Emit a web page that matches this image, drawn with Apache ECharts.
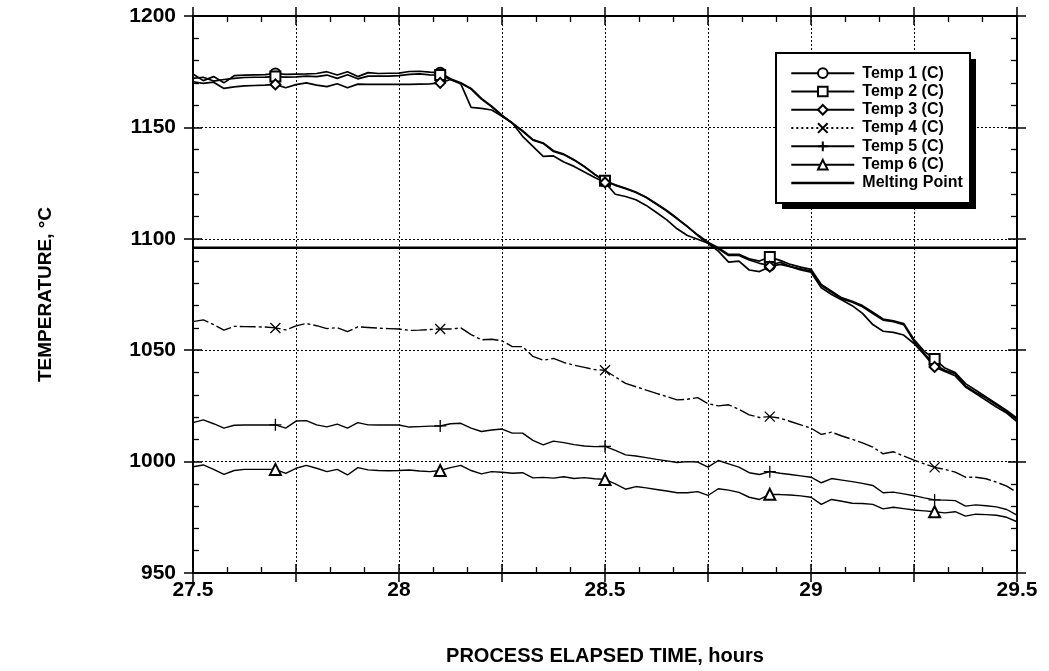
<!DOCTYPE html>
<html>
<head>
<meta charset="utf-8">
<script src="https://cdn.jsdelivr.net/npm/echarts@6/dist/echarts.min.js"></script>
<style>
html,body{margin:0;padding:0;background:#fff;}
#chart{width:1049px;height:671px;}
</style>
</head>
<body>
<div id="chart"></div>
<script>
const times = [27.5,27.525,27.55,27.575,27.6,27.625,27.65,27.675,27.7,27.725,27.75,27.775,27.8,27.825,27.85,27.875,27.9,27.925,27.95,27.975,
28.0,28.025,28.05,28.075,28.1,28.125,28.15,28.175,28.2,28.225,28.25,28.275,28.3,28.325,28.35,28.375,28.4,28.425,28.45,28.475,
28.5,28.525,28.55,28.575,28.6,28.625,28.65,28.675,28.7,28.725,28.75,28.775,28.8,28.825,28.85,28.875,28.9,28.925,28.95,28.975,
29.0,29.025,29.05,29.075,29.1,29.125,29.15,29.175,29.2,29.225,29.25,29.275,29.3,29.325,29.35,29.375,29.4,29.425,29.45,29.475,29.5];

const temp1 = [1174,1171,1172.8,1170,1173.2,1173.5,1173.6,1173.7,1174.2,1173.8,1173.9,1174,1174.2,1175,1173.5,1175,1172.8,1174.6,1174.2,1174.3,
1174.4,1175.1,1175.2,1174.8,1174.5,1171.8,1170,1167.5,1163,1159.5,1155.5,1152,1148.5,1144.5,1143,1139.5,1138,1135.5,1132.5,1129,
1125.8,1124,1122.5,1120.8,1118.5,1115.5,1112.5,1109,1105.5,1101.5,1098,1095.5,1092.5,1092.5,1090.5,1089,1088,1089.5,1087.5,1086.5,
1085.5,1079,1076,1073,1071.5,1069.5,1066.5,1063.5,1062.8,1061.5,1054,1048.5,1043.5,1041,1039.5,1034,1031,1028.5,1025.5,1022.5,1019];

const temp2 = [1172,1172.5,1170.8,1171.5,1172,1172.4,1172.5,1172.6,1172.8,1172.6,1172.7,1173,1172.8,1173.5,1172,1173.6,1171.8,1173,1173,1173,
1173.2,1173.8,1174,1173.6,1173.5,1171.5,1169.8,1167.2,1162.7,1159.2,1155.2,1151.8,1148.2,1144.3,1142.8,1139.2,1137.8,1135.3,1132.3,1128.8,
1126,1124.2,1122.7,1121,1118.7,1115.7,1112.7,1109.2,1105.5,1101.8,1098.5,1096,1093,1093,1091,1090,1091.8,1090.3,1088.5,1087.3,
1086.3,1079.5,1076.5,1073.5,1072,1070,1067,1064,1063.2,1062,1054.8,1049.5,1046,1042,1040,1035,1032,1029,1026,1023,1019.5];

const temp3 = [1170.5,1169.8,1170.3,1167.5,1168.2,1168.6,1168.8,1169,1169.3,1167.8,1169.2,1170,1169,1168.3,1169.6,1167.8,1169.4,1169.3,1169.3,1169.3,
1169.3,1169.3,1169.4,1169.5,1170,1171.5,1169.5,1159,1158.5,1157.8,1155,1152,1146,1141.5,1137,1137.2,1134.5,1132.5,1130,1127.5,
1125.3,1120,1119,1117.5,1115,1111.8,1108.5,1104.5,1101.5,1099.8,1098,1094.5,1089.5,1090,1086,1085.3,1087.5,1088.5,1087.5,1086,
1085,1078,1075,1072.5,1070,1066.5,1061.5,1058.5,1058,1056.8,1053,1048,1042.5,1040.5,1038.5,1033.5,1030.5,1027.5,1024.5,1021.8,1018];

const temp4 = [1062.8,1063.6,1061.5,1059,1060.7,1060.6,1060.5,1060.4,1060,1059.1,1060.9,1062,1061,1059.7,1060.1,1058.3,1060.5,1060.2,1059.9,1059.7,
1059.5,1058.9,1059,1059.3,1059.5,1059.5,1060,1057,1054.7,1054.9,1054.2,1051.6,1051.6,1047.2,1045.5,1046.3,1044.5,1043.3,1042.3,1041.3,
1041,1038,1035.1,1033.6,1032.1,1030.6,1029.2,1027.7,1028,1028.7,1026,1025,1025.5,1023.5,1021,1019.8,1020.2,1019.5,1018,1016.5,
1015,1012.2,1013.2,1011.5,1010,1008.4,1006.5,1003.5,1004.4,1002.5,1000.7,999,997.4,996.5,995.3,993,993,992.3,990.8,989,986.1];

const temp5 = [1017.5,1018.7,1017,1015,1016.3,1016.4,1016.4,1016.4,1016.5,1015,1018.2,1018.4,1016.5,1015.6,1016.8,1015,1017.5,1016.5,1016.4,1016.4,
1016.4,1015.5,1015.7,1015.9,1016,1017,1017.2,1015,1013.5,1014.2,1014.6,1012.8,1012.8,1009.5,1007.5,1009.2,1008.5,1007.6,1007,1006.7,
1006.8,1005,1003,1002.5,1001.8,1001,1000.3,999.6,1000,999.8,997.5,1000.5,999,997.5,995,994.2,995.5,994.8,994.2,993.6,
993,990.5,992.4,991.7,991,990.2,989.3,986,986.3,985.5,984.7,983.7,982.8,982.7,982.5,980,980.6,980.2,979.7,978.5,976];

const temp6 = [997.7,998.5,996.5,994.3,996,996.5,996.5,996.5,996.5,994.7,997,998.3,997,995.5,996.5,994,997.3,996.3,996,995.9,
996,996.2,995.8,995.5,996,997.3,998.3,996,994.5,995.5,995.2,994.8,995,992.7,992.9,992.6,993.2,992.4,992.8,992.3,
992,990,987.6,988.8,988.2,987.5,986.8,986,986,986.5,984.8,987.8,987.2,986.2,984,983,985.3,985.2,985,984.6,
984,980.8,983,982.2,981.3,981.2,980.8,978.8,979.5,978.9,978.3,977.9,977.5,977,977.5,975.5,976.4,976.2,975.9,975,973];

const meltingPoint = 1096;
const markerTimes = [27.7, 28.1, 28.5, 28.9, 29.3];
const seriesNames = ['Temp 1 (C)','Temp 2 (C)','Temp 3 (C)','Temp 4 (C)','Temp 5 (C)','Temp 6 (C)','Melting Point'];
const xTickValues = [27.5, 28, 28.5, 29, 29.5];
const xTickLabels = ['27.5', '28', '28.5', '29', '29.5'];
const yTickValues = [950, 1000, 1050, 1100, 1150, 1200];
const yTickLabels = ['950', '1000', '1050', '1100', '1150', '1200'];

const FONT = "'Liberation Sans', Arial, Helvetica, sans-serif";
const X_PATH = 'path://M0,0L10,10M10,0L0,10';
const PLUS_PATH = 'path://M5,0L5,10M0,5L10,5';

function isMarker(t) { return markerTimes.some(m => Math.abs(m - t) < 1e-6); }

function makeSeries(name, values, symbol, size, lineWidth, lineType) {
  return {
    name: name,
    type: 'line',
    xAxisIndex: 0, yAxisIndex: 0,
    symbol: symbol,
    symbolSize: size,
    showSymbol: true,
    showAllSymbol: true,
    animation: false,
    lineStyle: { color: '#000', width: lineWidth, type: lineType },
    itemStyle: { color: '#000', borderColor: '#000', borderWidth: 1.3 },
    emphasis: { disabled: true },
    data: times.map((t, i) => ({ value: [t, values[i]], symbol: isMarker(t) ? symbol : 'none' }))
  };
}

const series = [
  makeSeries(seriesNames[0], temp1, 'emptyCircle', 10, 1.7, 'solid'),
  makeSeries(seriesNames[1], temp2, 'emptyRect', 10, 1.7, 'solid'),
  makeSeries(seriesNames[2], temp3, 'emptyDiamond', 10, 1.7, 'solid'),
  makeSeries(seriesNames[3], temp4, X_PATH, 10, 1.4, [16, 3, 3, 3]),
  makeSeries(seriesNames[4], temp5, PLUS_PATH, 12, 1.4, 'solid'),
  makeSeries(seriesNames[5], temp6, 'emptyTriangle', 11, 1.4, 'solid'),
  {
    name: seriesNames[6], type: 'line', xAxisIndex: 0, yAxisIndex: 0,
    symbol: 'none', animation: false,
    lineStyle: { color: '#000', width: 2.6 },
    itemStyle: { color: '#000' },
    emphasis: { disabled: true },
    data: [[times[0], meltingPoint], [times[times.length - 1], meltingPoint]]
  }
];

const black = '#000';
function labelFrom(values, labels) {
  return function (v) {
    const k = values.findIndex(t => Math.abs(t - v) < 1e-6);
    return k >= 0 ? labels[k] : '';
  };
}
function xAxisDef(position, inside, withLabels, withSplit, showLine) {
  return {
    type: 'value', position: position, min: 27.5, max: 29.5, interval: 0.25,
    axisLine: { show: showLine, onZero: false, lineStyle: { color: black, width: 2 } },
    axisTick: { show: true, inside: inside, length: 9, lineStyle: { color: black, width: 1.5 } },
    minorTick: { show: inside, splitNumber: 3, length: 6, lineStyle: { color: black, width: 1.3 } },
    splitLine: { show: withSplit, lineStyle: { color: black, width: 1, type: [2, 2] } },
    axisLabel: withLabels ? {
      show: true, margin: 7, color: black, fontFamily: FONT, fontWeight: 'bold', fontSize: 21,
      formatter: labelFrom(xTickValues, xTickLabels)
    } : { show: false }
  };
}
function yAxisDef(position, inside, withLabels, withSplit, showLine) {
  return {
    type: 'value', position: position, min: 950, max: 1200, interval: 50,
    axisLine: { show: showLine, onZero: false, lineStyle: { color: black, width: 2 } },
    axisTick: { show: true, inside: inside, length: 9, lineStyle: { color: black, width: 1.5 } },
    minorTick: { show: inside, splitNumber: 5, length: 6, lineStyle: { color: black, width: 1.3 } },
    splitLine: { show: withSplit, lineStyle: { color: black, width: 1, type: [2, 2] } },
    axisLabel: withLabels ? {
      show: true, margin: 17, color: black, fontFamily: FONT, fontWeight: 'bold', fontSize: 21,
      formatter: labelFrom(yTickValues, yTickLabels)
    } : { show: false }
  };
}

const xMain = xAxisDef('bottom', true, true, true, true);
xMain.name = 'PROCESS ELAPSED TIME, hours';
xMain.nameLocation = 'middle';
xMain.nameGap = 73;
xMain.nameTextStyle = { color: black, fontFamily: FONT, fontWeight: 'bold', fontSize: 20 };

const yMain = yAxisDef('left', true, true, true, true);
yMain.name = 'TEMPERATURE, °C';
yMain.nameLocation = 'middle';
yMain.nameGap = 138;
yMain.nameTextStyle = { color: black, fontFamily: FONT, fontWeight: 'bold', fontSize: 19 };

const legendBox = { x: 776, y: 53, w: 194, h: 150 };

const option = {
  backgroundColor: '#fff',
  animation: false,
  grid: { left: 193, right: 32, top: 16, bottom: 98, containLabel: false },
  xAxis: [
    xMain,
    xAxisDef('bottom', false, false, false, false),
    xAxisDef('top', true, false, false, true),
    xAxisDef('top', false, false, false, false)
  ],
  yAxis: [
    yMain,
    yAxisDef('left', false, false, false, false),
    yAxisDef('right', true, false, false, true),
    yAxisDef('right', false, false, false, false)
  ],
  graphic: [
    { type: 'rect', z: 3, silent: true,
      shape: { x: legendBox.x + 6, y: legendBox.y + 6, width: legendBox.w, height: legendBox.h },
      style: { fill: black } },
    { type: 'rect', z: 3, silent: true,
      shape: { x: legendBox.x, y: legendBox.y, width: legendBox.w, height: legendBox.h },
      style: { fill: '#fff', stroke: black, lineWidth: 2 } }
  ],
  legend: {
    show: true,
    z: 5,
    data: seriesNames.map(n => {
      if (n === 'Melting Point') return { name: n, itemStyle: { opacity: 0 }, lineStyle: { width: 2.6 } };
      if (n === 'Temp 4 (C)') return { name: n, lineStyle: { type: [2, 3] } };
      return n;
    }),
    orient: 'vertical',
    left: legendBox.x, top: legendBox.y,
    padding: [12, 12, 12, 14],
    itemWidth: 63, itemHeight: 12, itemGap: 2,
    selectedMode: false,
    textStyle: { color: black, fontFamily: FONT, fontWeight: 'bold', fontSize: 16, lineHeight: 16.3, padding: [0, 0, 0, 3] }
  },
  series: series
};

const chart = echarts.init(document.getElementById('chart'), null, { renderer: 'canvas' });
chart.setOption(option);
</script>
</body>
</html>
